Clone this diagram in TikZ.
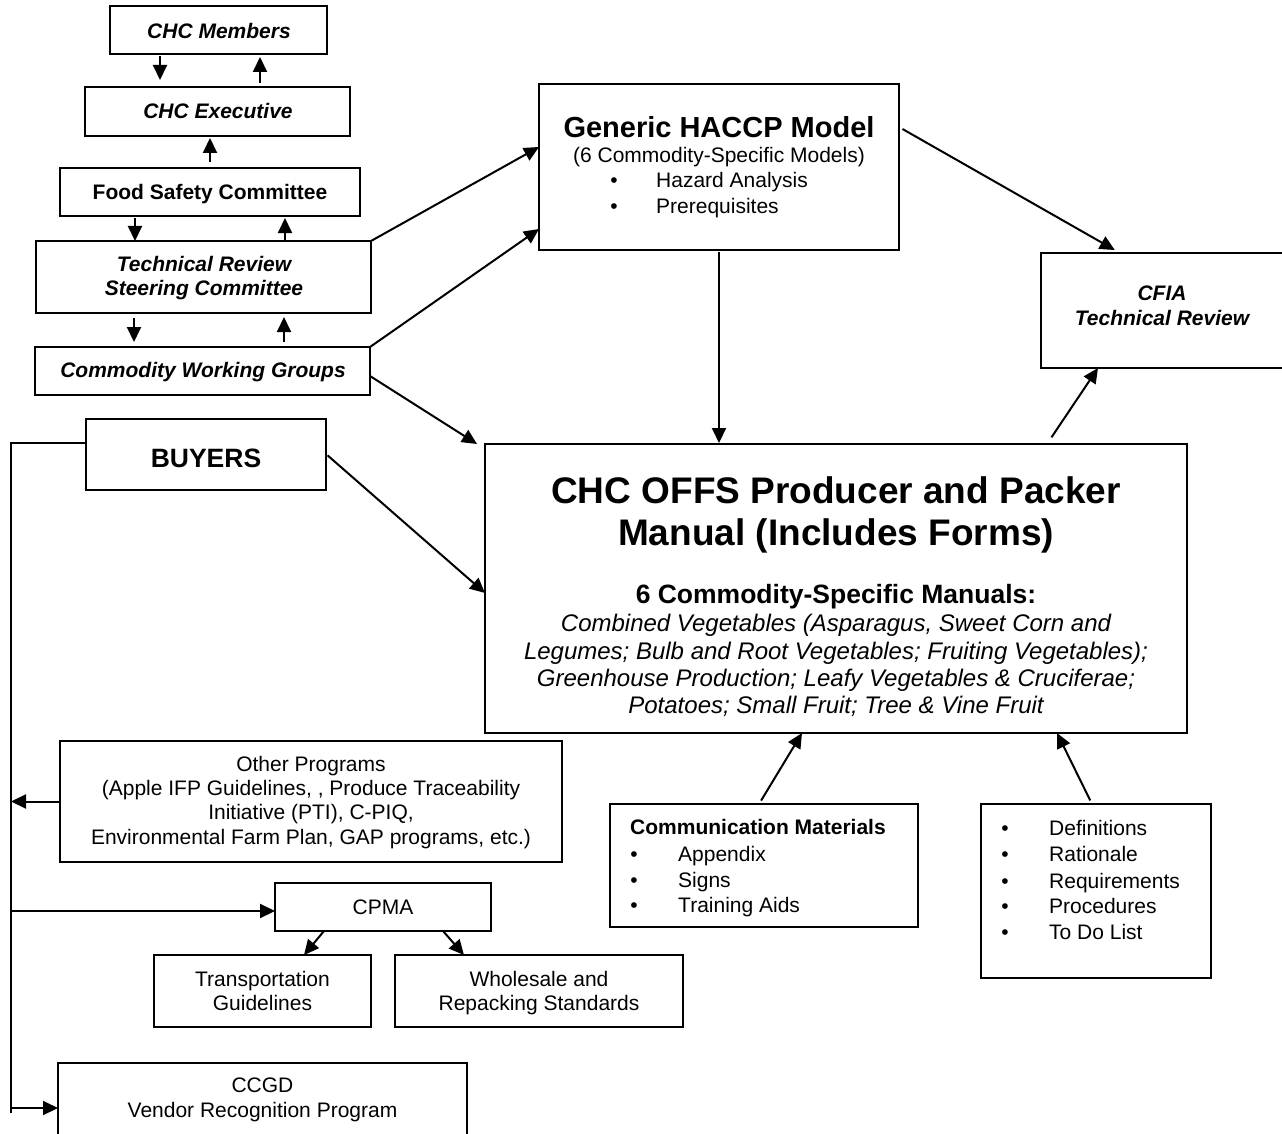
\documentclass[tikz,border=0pt]{standalone}
\usepackage{fontspec}
\setmainfont{Liberation Sans}
\usetikzlibrary{arrows.meta}
\newcommand\boxat[5]{\node[box, minimum width=#4pt-#2pt, minimum height=#5pt-#3pt] (#1) at ({(#2+#4)/2},{(#3+#5)/2}) {};}
\tikzset{
 box/.style={draw, line width=1.4pt, inner sep=0pt, outer sep=0pt},
 arr/.style={line width=2pt, -{Triangle[length=15pt,width=14pt]}},
 ln/.style={line width=2pt},
 txt/.style={inner sep=0pt, anchor=base, font=\fontsize{21}{25}\selectfont},
 txtl/.style={txt, anchor=base west},
 bf/.style={font=\fontsize{21}{25}\selectfont\bfseries},
 bi/.style={font=\fontsize{21}{25}\selectfont\bfseries\itshape},
 ital/.style={font=\fontsize{24}{28}\selectfont\itshape},
}
\begin{document}
\begin{tikzpicture}[x=1pt,y=-1pt]
\clip (0,0) rectangle (1282,1134);
\fill[white] (0,0) rectangle (1282,1134);

% boxes
\boxat{mem}{110}{6}{327}{54}
\boxat{exec}{85}{87}{350}{136}
\boxat{fsc}{60}{168}{360}{216}
\boxat{trsc}{36}{241}{371}{313}
\boxat{cwg}{35}{347}{370}{395}
\boxat{haccp}{539}{84}{899}{250}
\boxat{cfia}{1041}{253}{1295}{368}
\boxat{buyers}{86}{419}{326}{490}
\boxat{main}{485}{444}{1187}{733}
\boxat{other}{60}{741}{562}{862}
\boxat{cpma}{275}{883}{491}{931}
\boxat{trans}{154}{955}{371}{1027}
\boxat{whole}{395}{955}{683}{1027}
\boxat{ccgd}{58}{1063}{467}{1150}
\boxat{comm}{610}{804}{918}{927}
\boxat{defs}{981}{804}{1211}{978}

% texts: left stack
\node[txt,bi] (memT) at (219,38.5) {CHC Members};
\node[txt,bi] (execT) at (218,118.5) {CHC Executive};
\node[txt,bf] (fscT) at (210,199.5) {Food Safety Committee};
\node[txt,bi] (trsc1) at (204,271) {Technical Review};
\node[txt,bi] (trsc2) at (204,295) {Steering Committee};
\node[txt,bi] (cwgT) at (203,377) {Commodity Working Groups};

% HACCP
\node[txt, font=\fontsize{29}{34}\selectfont\bfseries] (hT) at (719,137.4) {Generic HACCP Model};
\node[txt] (hS) at (719,162.5) {(6 Commodity-Specific Models)};
\node[txt] (hb1) at (614,187.5) {\textbullet};
\node[txtl] (hi1) at (656,187.5) {Hazard Analysis};
\node[txt] (hb2) at (614,213.5) {\textbullet};
\node[txtl] (hi2) at (656,213.5) {Prerequisites};

% CFIA
\node[txt,bi] (cf1) at (1162,300.5) {CFIA};
\node[txt,bi] (cf2) at (1162,325.5) {Technical Review};

% BUYERS
\node[txt, font=\fontsize{26.5}{31}\selectfont\bfseries] (buyT) at (206,467.5) {BUYERS};

% main box
\node[txt, font=\fontsize{37}{44}\selectfont\bfseries] (m1) at (836,503.4) {CHC OFFS Producer and Packer};
\node[txt, font=\fontsize{37}{44}\selectfont\bfseries] (m2) at (836,545.4) {Manual (Includes Forms)};
\node[txt, font=\fontsize{26.5}{31}\selectfont\bfseries] (m3) at (836,603.5) {6 Commodity-Specific Manuals:};
\node[txt,ital] (m4) at (836,631.6) {Combined Vegetables (Asparagus, Sweet Corn and};
\node[txt,ital] (m5) at (836,659.6) {Legumes; Bulb and Root Vegetables; Fruiting Vegetables);};
\node[txt,ital] (m6) at (836,686.6) {Greenhouse Production; Leafy Vegetables \& Cruciferae;};
\node[txt,ital] (m7) at (836,713.6) {Potatoes; Small Fruit; Tree \& Vine Fruit};

% other programs
\node[txt] (o1) at (311,771.5) {Other Programs};
\node[txt] (o2) at (311,795.5) {(Apple IFP Guidelines, , Produce Traceability};
\node[txt] (o3) at (311,819.5) {Initiative (PTI), C-PIQ,};
\node[txt] (o4) at (311,844.5) {Environmental Farm Plan, GAP programs, etc.)};

% CPMA and children
\node[txt] (cpT) at (383,914.5) {CPMA};
\node[txt] (tr1) at (262.5,986.5) {Transportation};
\node[txt] (tr2) at (262.5,1010.5) {Guidelines};
\node[txt] (wh1) at (539,986.5) {Wholesale and};
\node[txt] (wh2) at (539,1010.5) {Repacking Standards};
\node[txt] (cc1) at (262.5,1092.5) {CCGD};
\node[txt] (cc2) at (262.5,1117.5) {Vendor Recognition Program};

% communication materials
\node[txtl,bf] (cmT) at (630,834.5) {Communication Materials};
\node[txt] (cb1) at (634,861.5) {\textbullet};
\node[txtl] (ci1) at (678,861.5) {Appendix};
\node[txt] (cb2) at (634,887.5) {\textbullet};
\node[txtl] (ci2) at (678,887.5) {Signs};
\node[txt] (cb3) at (634,912.5) {\textbullet};
\node[txtl] (ci3) at (678,912.5) {Training Aids};

% definitions list
\node[txt] (db1) at (1005,835.5) {\textbullet};
\node[txtl] (di1) at (1049,835.5) {Definitions};
\node[txt] (db2) at (1005,861.5) {\textbullet};
\node[txtl] (di2) at (1049,861.5) {Rationale};
\node[txt] (db3) at (1005,888.5) {\textbullet};
\node[txtl] (di3) at (1049,888.5) {Requirements};
\node[txt] (db4) at (1005,913.5) {\textbullet};
\node[txtl] (di4) at (1049,913.5) {Procedures};
\node[txt] (db5) at (1005,939.5) {\textbullet};
\node[txtl] (di5) at (1049,939.5) {To Do List};

% helper coordinates
\coordinate (x160) at (160,0);
\coordinate (x260) at (260,0);
\coordinate (x210) at (210,0);
\coordinate (x135) at (135,0);
\coordinate (x285) at (285,0);
\coordinate (x134) at (134,0);
\coordinate (x284) at (284,0);
\coordinate (x477) at (477,0);
\coordinate (x1120) at (1120,0);
\coordinate (x1047) at (1047,0);
\coordinate (x1098) at (1098,0);
\coordinate (x759) at (759,0);
\coordinate (x802) at (802,0);
\coordinate (x1092) at (1092,0);
\coordinate (x1057) at (1057,0);
\coordinate (x324) at (324,0);
\coordinate (x304) at (304,0);
\coordinate (x443) at (443,0);
\coordinate (x464) at (464,0);
\coordinate (xL) at (11,0);
\coordinate (y147) at (0,147);
\coordinate (y229) at (0,229);
\coordinate (y376) at (0,376);
\coordinate (y454) at (0,454);
\coordinate (y593) at (0,593);
\coordinate (y127) at (0,127);
\coordinate (y443) at (0,443);
\coordinate (y911) at (0,911);
\coordinate (y1108) at (0,1108);
\coordinate (y1113) at (0,1113);

% stack arrows
\draw[arr, shorten <=2pt, shorten >=7pt] (mem.south -| x160) -- (exec.north -| x160);
\draw[arr, shorten <=4pt, shorten >=3pt] (exec.north -| x260) -- (mem.south -| x260);
\draw[arr, shorten <=6pt, shorten >=2pt] (fsc.north -| x210) -- (exec.south -| x210);
\draw[arr, shorten <=2pt] (fsc.south -| x135) -- (trsc.north -| x135);
\draw[arr, shorten >=2pt] (trsc.north -| x285) -- (fsc.south -| x285);
\draw[arr, shorten <=5pt, shorten >=5pt] (trsc.south -| x134) -- (cwg.north -| x134);
\draw[arr, shorten <=5pt, shorten >=4pt] (cwg.north -| x284) -- (trsc.south -| x284);

% diagonal arrows
\draw[arr] (trsc.north east) -- (haccp.west |- y147);
\draw[arr] (cwg.north east) -- (haccp.west |- y229);
\draw[arr] (cwg.east |- y376) -- (main.north -| x477);
\draw[arr, shorten <=2pt] (buyers.east |- y454) -- (main.west |- y593);
\draw[arr, shorten <=4pt, shorten >=6pt] (haccp.east |- y127) -- (cfia.north -| x1120);
\draw[arr, shorten <=2pt, shorten >=1pt] (haccp.south) -- (haccp.south |- main.north);
\draw[arr, shorten <=8pt] (main.north -| x1047) -- (cfia.south -| x1098);
\draw[arr, shorten <=4pt] (comm.north -| x759) -- (main.south -| x802);
\draw[arr, shorten <=4pt] (defs.north -| x1092) -- (main.south -| x1057);
\draw[arr] (cpma.south -| x324) -- (trans.north -| x304);
\draw[arr] (cpma.south -| x443) -- (whole.north -| x464);

% left bus
\draw[ln] (buyers.west |- y443) -- (xL |- y443) -- (xL |- y1113);
\draw[arr] (other.west) -- (other.west -| xL);
\draw[arr] (xL |- y911) -- (cpma.west |- y911);
\draw[arr] (xL |- y1108) -- (ccgd.west |- y1108);
\end{tikzpicture}
\end{document}
